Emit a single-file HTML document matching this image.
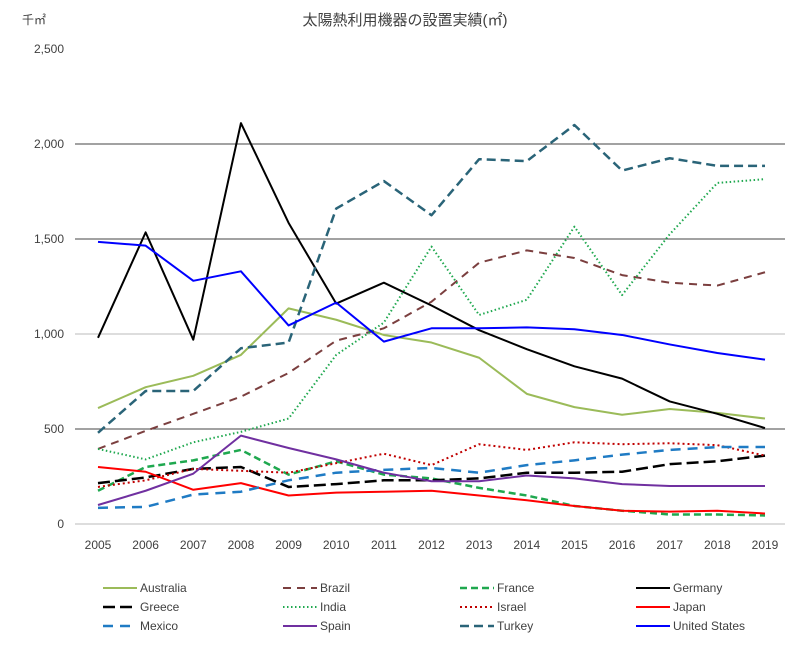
<!DOCTYPE html>
<html><head><meta charset="utf-8"><style>
body{margin:0;background:#fff;font-family:"Liberation Sans","Noto Sans CJK JP",sans-serif;}
svg text{font-family:"Liberation Sans","Noto Sans CJK JP",sans-serif;fill:#404040;}
</style></head><body>
<svg id="chart" width="800" height="644">
<text x="405" y="25" font-size="15" text-anchor="middle">太陽熱利用機器の設置実績(㎡)</text>
<text x="22" y="24" font-size="12">千㎡</text>
<g id="grid"></g><g id="series"></g><g id="legend"></g>
</svg>
<script>
const years=[2005,2006,2007,2008,2009,2010,2011,2012,2013,2014,2015,2016,2017,2018,2019];
const yTicks=[0,500,1000,1500,2000,2500];
const names=["Australia","Brazil","France","Germany","Greece","India","Israel","Japan","Mexico","Spain","Turkey","United States"];
const australia=[610,720,780,890,1135,1075,995,955,875,685,615,575,605,585,555];
const brazil=[395,490,580,670,795,965,1030,1170,1375,1440,1400,1310,1270,1255,1325];
const france=[175,300,335,390,260,330,260,240,190,150,95,70,50,50,45];
const germany=[980,1535,970,2110,1585,1160,1270,1150,1020,920,830,765,645,580,505];
const greece=[215,245,290,300,195,210,230,230,240,270,270,275,315,330,360];
const india=[395,340,430,485,555,890,1060,1460,1100,1180,1565,1205,1525,1795,1815];
const israel=[195,230,290,280,270,320,370,310,420,390,430,420,425,415,360];
const japan=[300,275,180,215,150,165,170,175,150,125,95,70,65,70,55];
const mexico=[85,90,155,170,230,270,285,295,270,310,335,365,390,405,405];
const spain=[100,175,265,465,400,340,270,225,225,255,240,210,200,200,200];
const turkey=[480,700,700,925,955,1660,1805,1625,1920,1910,2100,1860,1925,1885,1885];
const unitedStates=[1485,1465,1280,1330,1045,1165,960,1030,1030,1035,1025,995,945,900,865];
const seriesData=[australia,brazil,france,germany,greece,india,israel,japan,mexico,spain,turkey,unitedStates];
const styles=[
 ["#9bbb59",2,""],["#7b3f3f",2,"8,6"],["#1fa84f",2.5,"7,4"],["#000",2,""],
 ["#000",2.5,"12,5"],["#1fa84f",2,"1.5,2.5"],["#c00000",2,"2,3"],["#ff0000",2,""],
 ["#1f7bc4",2.5,"10,7"],["#7030a0",2,""],["#2a6478",2.5,"9,5"],["#0000ff",2,""]];
const X=i=>98+i*(765-98)/(years.length-1);
const Y=v=>524-v*0.19;
const NS="http://www.w3.org/2000/svg";
function mk(t,a,p){const e=document.createElementNS(NS,t);for(const k in a)e.setAttribute(k,a[k]);p.appendChild(e);return e;}
const grid=document.getElementById('grid');
yTicks.forEach(v=>{
 if(v>0&&v<2500){const l=mk('line',{x1:75,x2:785,y1:Y(v),y2:Y(v),stroke:v===1000?'#bbb':'#444','stroke-width':1},grid);
 
 }
 const t=mk('text',{x:64,y:Y(v)+4,'font-size':12,'text-anchor':'end'},grid);t.textContent=v.toLocaleString('en-US');
 
 
});
const ax=mk('line',{x1:75,x2:785,y1:Y(0),y2:Y(0),stroke:'#bbb','stroke-width':1},grid);


years.forEach((y,i)=>{const t=mk('text',{x:X(i),y:549,'font-size':12,'text-anchor':'middle'},grid);t.textContent=y;
 
 });
const sg=document.getElementById('series');
seriesData.forEach((d,s)=>{const st=styles[s];
 const p=mk('polyline',{points:d.map((v,i)=>X(i)+','+Y(v)).join(' '),fill:'none',stroke:st[0],'stroke-width':st[1],'stroke-dasharray':st[2],'stroke-linejoin':'round'},sg);
 
 
});
const lg=document.getElementById('legend');
const colX=[103,283,460,636],rowY=[588,607,626];
names.forEach((n,s)=>{const st=styles[s];const x=colX[s%4],y=rowY[Math.floor(s/4)];
 const g=mk('g',{},lg);
 
 
 mk('line',{x1:x,x2:x+34,y1:y,y2:y,stroke:st[0],'stroke-width':st[1],'stroke-dasharray':st[2]},g);
 const t=mk('text',{x:x+37,y:y+4,'font-size':12},g);t.textContent=n;
});
</script>
</body></html>
